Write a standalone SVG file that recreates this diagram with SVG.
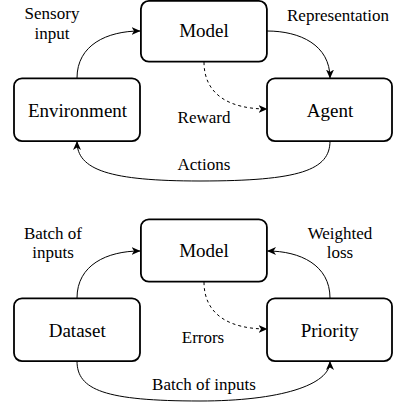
<svg xmlns="http://www.w3.org/2000/svg" width="393" height="404" viewBox="0 0 393 404">
  <style>
    .box { fill: #ffffff; stroke: #000000; stroke-width: 1.8; }
    .name { font-family: 'Liberation Serif', 'Times New Roman', serif; font-size: 19px; fill: #000; text-anchor: middle; }
    .lbl { font-family: 'Liberation Serif', 'Times New Roman', serif; font-size: 17px; fill: #000; text-anchor: middle; }
    .edge { fill: none; stroke: #000; stroke-width: 1; marker-end: url(#arrow); }
    .dash { stroke-dasharray: 3 3; }
  </style>
  <defs>
    <marker id="arrow" viewBox="0 0 9 8" refX="8.5" refY="4" markerWidth="9" markerHeight="8" markerUnits="userSpaceOnUse" orient="auto">
      <path d="M0,0 L9,4 L0,8 L2.5,4 z" fill="#000"/>
    </marker>
  </defs>
  <rect width="393" height="404" fill="#ffffff"/>

  <g id="connectors">
    <path class="edge" d="M77,78 C77,45 107,31 140,31"/>
    <path class="edge" d="M267,31 C300,31 330,45 330,78"/>
    <path class="edge dash" d="M204,62 C204,95 230,109 267,109"/>
    <path class="edge" d="M330,141 C330,170 300,181 200,181 C110,181 77,170 77,141.5"/>
    <path class="edge" d="M77,298 C77,265 107,251 140,251"/>
    <path class="edge" d="M330,298 C330,265 300,251 267.5,251"/>
    <path class="edge dash" d="M204,282 C204,315 230,329 267,329"/>
    <path class="edge" d="M77,361 C77,390 105,401 200,401 C280,401 330,385 330,361.5"/>
  </g>

  <g id="labels">
    <text class="lbl" x="52" y="19">Sensory</text>
    <text class="lbl" x="52" y="38.5">input</text>
    <text class="lbl" x="338" y="20.5">Representation</text>
    <text class="lbl" x="204" y="123.3">Reward</text>
    <text class="lbl" x="204" y="170">Actions</text>
    <text class="lbl" x="53" y="238.5">Batch of</text>
    <text class="lbl" x="53" y="258">inputs</text>
    <text class="lbl" x="340" y="238.5">Weighted</text>
    <text class="lbl" x="340" y="258">loss</text>
    <text class="lbl" x="203" y="343.3">Errors</text>
    <text class="lbl" x="204" y="390">Batch of inputs</text>
  </g>

  <g id="model-top">
    <rect class="box" x="140.9" y="0.9" width="126" height="60.8" rx="8"/>
    <text class="name" x="204" y="37.3">Model</text>
  </g>
  <g id="environment">
    <rect class="box" x="14" y="78.3" width="126" height="62.8" rx="8"/>
    <text class="name" x="77.5" y="116.7">Environment</text>
  </g>
  <g id="agent">
    <rect class="box" x="267" y="78.3" width="125" height="62.8" rx="8"/>
    <text class="name" x="330" y="116.7">Agent</text>
  </g>

  <g id="model-bottom">
    <rect class="box" x="140.9" y="219.3" width="126" height="62.4" rx="8"/>
    <text class="name" x="204" y="257.3">Model</text>
  </g>
  <g id="dataset">
    <rect class="box" x="14" y="298.3" width="126" height="62.8" rx="8"/>
    <text class="name" x="77.2" y="336.7">Dataset</text>
  </g>
  <g id="priority">
    <rect class="box" x="267" y="298.3" width="125" height="62.8" rx="8"/>
    <text class="name" x="329.7" y="336.7">Priority</text>
  </g>
</svg>
